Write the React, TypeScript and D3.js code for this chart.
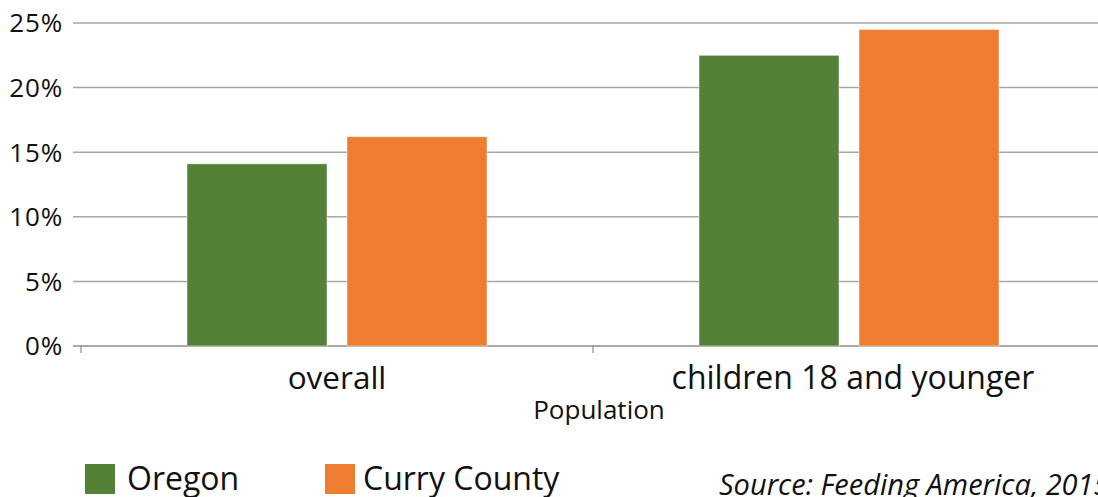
import React from "react";
import * as d3 from "d3";

const categories = ["overall", "children 18 and younger"];
const seriesNames = ["Oregon", "Curry County"];
const oregon = [0.141, 0.225];
const curry = [0.162, 0.245];
const yTicks = [0, 0.05, 0.1, 0.15, 0.2, 0.25];
const colors = ["#538135", "#ED7D31"];

const W = 1098;
const H = 497;
const FONT = "'Open Sans', 'Noto Sans', sans-serif";

export default function App() {
  const x = d3.scaleBand<string>().domain(categories).range([81, 1105]).padding(0);
  const inner = d3
    .scaleBand<string>()
    .domain(seriesNames)
    .range([0, x.bandwidth()])
    .paddingInner(0.125)
    .paddingOuter(0.6625);
  const y = d3.scaleLinear().domain([0, 0.25]).range([346, 23]);
  const values = [oregon, curry];
  const fmt = d3.format(".0%");

  return (
    <svg
      width={W}
      height={H}
      style={{ position: "absolute", left: 0, top: 0, background: "#fff" }}
      fontFamily={FONT}
    >
      {yTicks.map((t) => (
        <g key={t}>
          <line
            x1={73}
            x2={W}
            y1={y(t)}
            y2={y(t)}
            stroke={t === 0 ? "#8c8c8c" : "#a6a6a6"}
            strokeWidth={1.5}
          />
          <text
            x={63}
            y={y(t)}
            dy="0.36em"
            textAnchor="end"
            fontSize={26}
            letterSpacing={0.8}
            fill="#111"
          >
            {fmt(t)}
          </text>
        </g>
      ))}
      {[...categories.map((c) => x(c) as number), 1105].map((tx, i) => (
        <line key={i} x1={tx} x2={tx} y1={346} y2={353} stroke="#8c8c8c" strokeWidth={1.2} />
      ))}
      {seriesNames.map((s, si) =>
        categories.map((c, ci) => {
          const v = values[si][ci];
          const bx = (x(c) as number) + (inner(s) as number);
          return (
            <rect
              key={s + c}
              x={bx}
              y={y(v)}
              width={inner.bandwidth()}
              height={y(0) - y(v)}
              fill={colors[si]}
              stroke="#fff"
              strokeOpacity={0.6}
              strokeWidth={0.8}
            />
          );
        })
      )}
      {categories.map((c, i) => (
        <text
          key={c}
          x={(x(c) as number) + x.bandwidth() / 2 + (i === 1 ? 4 : 0)}
          y={389}
          textAnchor="middle"
          fontSize={i === 1 ? 32 : 31.5}
          fill="#111"
        >
          {c}
        </text>
      ))}
      <text x={599} y={419} textAnchor="middle" fontSize={26} fill="#111">
        Population
      </text>
      {seriesNames.map((s, i) => {
        const lx = [85, 325][i];
        return (
          <g key={s}>
            <rect x={lx} y={464} width={30} height={30} fill={colors[i]} />
            <text x={lx + [42, 38][i]} y={490} fontSize={32} fill="#111">
              {s}
            </text>
          </g>
        );
      })}
      <text x={719} y={495} fontSize={29} fontStyle="italic" fill="#111">
        Source: Feeding America, 2015
      </text>
    </svg>
  );
}
